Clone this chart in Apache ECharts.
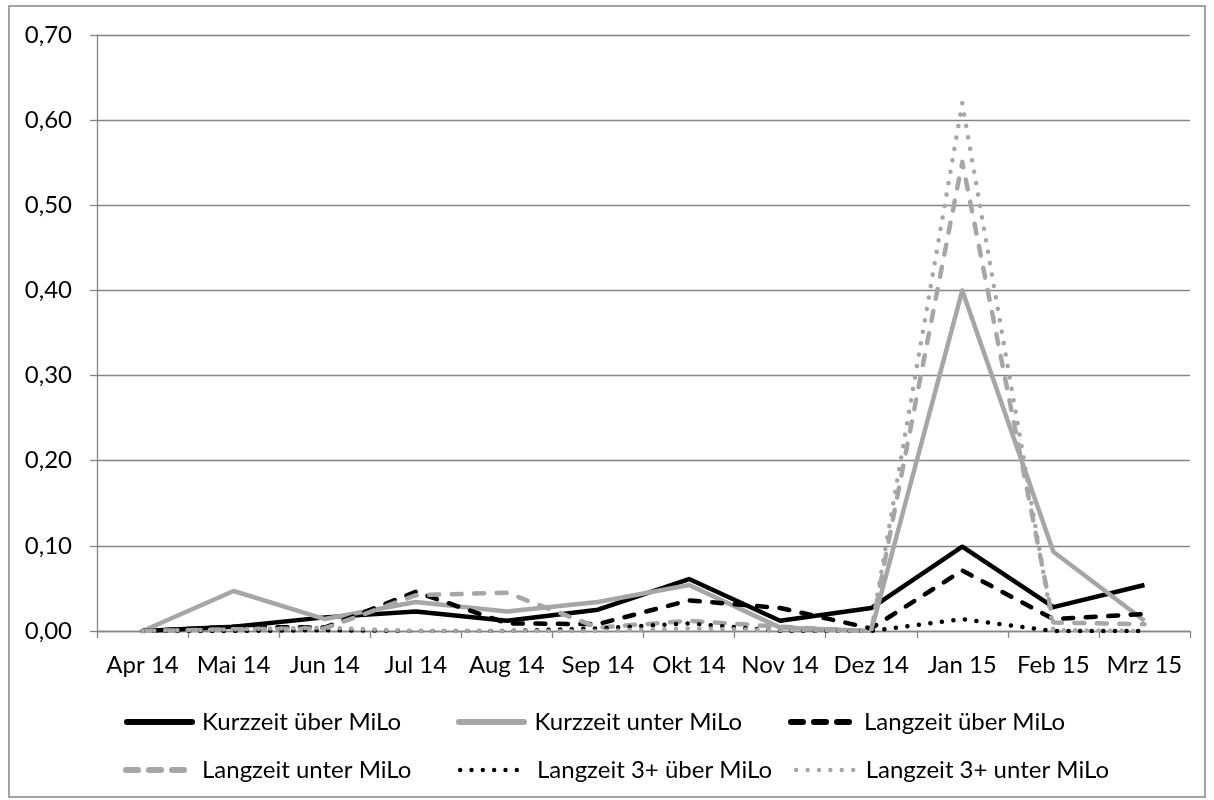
<!DOCTYPE html>
<html><head><meta charset="utf-8">
<script src="https://cdn.jsdelivr.net/npm/echarts@6/dist/echarts.min.js"></script>
<style>html,body{margin:0;padding:0;background:#fff}#c{width:1214px;height:800px}</style>
</head><body><div id="c"></div>
<script>
const categories = ['Apr 14','Mai 14','Jun 14','Jul 14','Aug 14','Sep 14','Okt 14','Nov 14','Dez 14','Jan 15','Feb 15','Mrz 15'];
const seriesNames = ['Kurzzeit über MiLo','Kurzzeit unter MiLo','Langzeit über MiLo','Langzeit unter MiLo','Langzeit 3+ über MiLo','Langzeit 3+ unter MiLo'];
const kurzUeber   = [0, 0.005, 0.016, 0.023, 0.012, 0.025, 0.061, 0.012, 0.027, 0.099, 0.028, 0.054];
const kurzUnter   = [0, 0.047, 0.014, 0.034, 0.023, 0.034, 0.054, 0.004, 0.000, 0.400, 0.093, 0.012];
const langUeber   = [0, 0.005, 0.004, 0.046, 0.009, 0.008, 0.036, 0.027, 0.003, 0.071, 0.014, 0.020];
const langUnter   = [0, 0.002, 0.003, 0.042, 0.045, 0.004, 0.012, 0.005, 0.000, 0.551, 0.010, 0.008];
const lang3Ueber  = [0, 0.000, 0.001, 0.000, 0.000, 0.003, 0.009, 0.000, 0.000, 0.014, 0.000, 0.000];
const lang3Unter  = [0, 0.002, 0.004, 0.000, 0.000, 0.000, 0.003, 0.001, 0.000, 0.620, 0.001, 0.000];
const yTicks = [0, 0.1, 0.2, 0.3, 0.4, 0.5, 0.6, 0.7];

const BLACK = '#000000', GRAY = '#a6a6a6', AX = '#868686';
const FONT = 'Lato';
const FS = 24;
const DASH = [10, 12.5], DOT = [0.1, 11.5];
const styles = [
  {color: BLACK, type: 'solid', cap: 'butt'},
  {color: GRAY, type: 'solid', cap: 'butt'},
  {color: BLACK, type: DASH, cap: 'round'},
  {color: GRAY, type: DASH, cap: 'round'},
  {color: BLACK, type: DOT, cap: 'round'},
  {color: GRAY, type: DOT, cap: 'round'}
];
const datas = [kurzUeber, kurzUnter, langUeber, langUnter, lang3Ueber, lang3Unter];

const series = seriesNames.map((n, i) => ({
  name: n, type: 'line', data: datas[i], symbol: 'none', smooth: false,
  lineStyle: {color: styles[i].color, width: 4.5, type: styles[i].type, cap: styles[i].cap, join: 'round'},
  itemStyle: {color: styles[i].color},
  emphasis: {disabled: true}, animation: false
}));

// legend icon shapes (paths are scaled to itemWidth x itemHeight)
function roundBar(x, len, h) { const r = h / 2; return `M${x + r},0 h${len - h} a${r},${r} 0 1 1 0,${h} h${-(len - h)} a${r},${r} 0 1 1 0,${-h} z`; }
const solidIcon = 'path://' + roundBar(0, 71, 6);
const dashIcon = 'path://' + roundBar(0, 18, 6) + ' ' + roundBar(23, 18, 6) + ' ' + roundBar(46, 18, 6);
function dots(n, step, r) { let p = ''; for (let k = 0; k < n; k++) { const cx = r + k * step; p += `M${cx - r},${r} a${r},${r} 0 1 0 ${2 * r},0 a${r},${r} 0 1 0 ${-2 * r},0 z `; } return p; }
const dotIcon = 'path://' + dots(6, 11.4, 2.2);

const legendCfg = [
  {left: 124, center: 722, w: 71, h: 6, icon: solidIcon, pad: 2},
  {left: 456, center: 722, w: 72, h: 6, icon: solidIcon, pad: 2},
  {left: 788, center: 722, w: 64, h: 6, icon: dashIcon, pad: 7},
  {left: 123, center: 770, w: 64, h: 6, icon: dashIcon, pad: 10},
  {left: 458, center: 770, w: 61, h: 4.4, icon: dotIcon, pad: 13},
  {left: 794, center: 770, w: 64, h: 4.4, icon: dotIcon, pad: 4}
];
const LH = 28;
const legends = seriesNames.map((n, i) => ({
  data: [{name: n, icon: legendCfg[i].icon, itemStyle: {color: styles[i].color, borderWidth: 0}}],
  left: legendCfg[i].left, top: legendCfg[i].center - LH / 2, padding: 0,
  itemWidth: legendCfg[i].w, itemHeight: legendCfg[i].h, itemGap: 0,
  textStyle: {fontFamily: FONT, fontSize: FS, lineHeight: LH, color: '#000', padding: [0, 0, 0, legendCfg[i].pad]},
  selectedMode: false
}));

const chart = echarts.init(document.getElementById('c'), null, {renderer: 'canvas'});
chart.setOption({
  animation: false,
  backgroundColor: '#fff',
  grid: {left: 97, right: 24, top: 35, bottom: 169, containLabel: false},
  legend: legends,
  xAxis: {
    type: 'category', data: categories, boundaryGap: true,
    axisLine: {lineStyle: {color: AX, width: 1.3}},
    axisTick: {show: true, length: 7, interval: 0, lineStyle: {color: AX, width: 1.3}, alignWithLabel: false},
    axisLabel: {fontFamily: FONT, fontSize: FS, color: '#000', margin: 22, interval: 0, hideOverlap: false}
  },
  yAxis: {
    type: 'value', min: yTicks[0], max: yTicks[yTicks.length - 1], interval: 0.1,
    axisLine: {show: true, lineStyle: {color: AX, width: 1.3}},
    axisTick: {show: true, length: 7, lineStyle: {color: AX, width: 1.3}},
    splitLine: {lineStyle: {color: AX, width: 1.3}},
    axisLabel: {fontFamily: FONT, fontSize: FS, color: '#000', margin: 25,
      formatter: v => v.toFixed(2).replace('.', ',')}
  },
  graphic: [{type: 'rect', shape: {x: 9, y: 6, width: 1196, height: 791},
    style: {fill: 'none', stroke: AX, lineWidth: 1.5}, silent: true}],
  series: series
});
</script></body></html>
